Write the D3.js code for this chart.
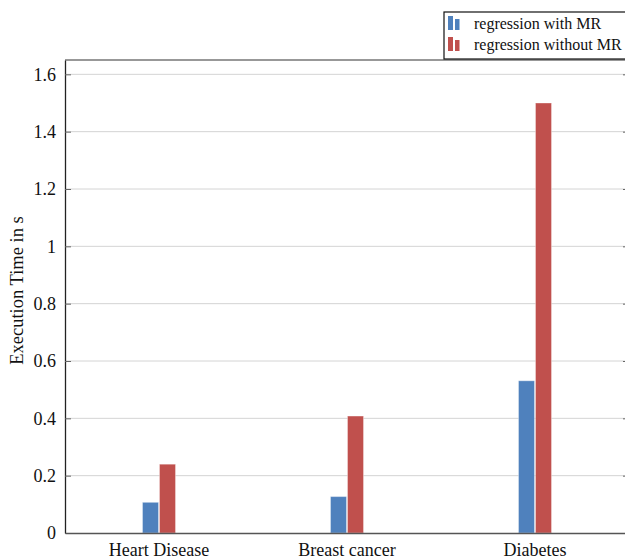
<!DOCTYPE html>
<html>
<head>
<meta charset="utf-8">
<script src="https://cdn.jsdelivr.net/npm/d3@7"></script>
<style>
  body { margin: 0; background: #fff; }
  svg text { font-family: "Liberation Serif", "Times New Roman", serif; fill: #111; }
</style>
</head>
<body>
<svg id="chart" width="625" height="560"></svg>
<script>
const categories = ["Heart Disease", "Breast cancer", "Diabetes"];
const seriesNames = ["regression with MR", "regression without MR"];
const withMR = [0.107, 0.127, 0.531];
const withoutMR = [0.24, 0.408, 1.5];
const yTicks = [0, 0.2, 0.4, 0.6, 0.8, 1, 1.2, 1.4, 1.6];
const colors = ["#4F81BD", "#C0504D"];

const svg = d3.select("#chart");
const margin = { left: 65, top: 60, right: -4, bottom: 27 };
const W = 625, H = 560;
const width = W - margin.left - margin.right;
const height = H - margin.top - margin.bottom;
const serif = "'Liberation Serif', 'Times New Roman', serif";

const g = svg.append("g").attr("transform", `translate(${margin.left},${margin.top})`);

const xScale = d3.scaleBand().domain(categories).range([0, width]).padding(0);
const barW = 17;
const xInner = d3.scaleBand().domain(seriesNames)
  .range([xScale.bandwidth() / 2 - barW, xScale.bandwidth() / 2 + barW]);
const yScale = d3.scaleLinear().domain([0, 1.65]).range([height, 0]);

// grid lines
g.selectAll(".grid")
  .data(yTicks.filter(d => d > 0))
  .join("line")
  .attr("class", "grid")
  .attr("x1", 0).attr("x2", width)
  .attr("y1", d => yScale(d)).attr("y2", d => yScale(d))
  .attr("stroke", "#d4d4d4").attr("stroke-width", 1);

// y axis
const yAxis = d3.axisLeft(yScale)
  .tickValues(yTicks)
  .tickFormat(d => d3.format("~g")(d))
  .tickSizeInner(-6)
  .tickSizeOuter(0)
  .tickPadding(9);
const ya = g.append("g").call(yAxis).attr("font-family", serif);
ya.select(".domain").attr("stroke", "#222").attr("stroke-width", 1.3);
ya.selectAll(".tick line").attr("stroke", "#666");
ya.selectAll("text").attr("font-size", 18).style("font-family", serif);

// right ticks
const yr = g.append("g").attr("transform", `translate(${width},0)`)
  .call(d3.axisRight(yScale).tickValues(yTicks).tickSizeInner(-6).tickSizeOuter(0).tickFormat(""));
yr.select(".domain").remove();
yr.selectAll(".tick line").attr("stroke", "#666");

// bars
const rows = categories.map((c, i) => ({ cat: c, vals: [withMR[i], withoutMR[i]] }));
g.selectAll(".grp")
  .data(rows)
  .join("g")
  .attr("class", "grp")
  .attr("transform", d => `translate(${xScale(d.cat)},0)`)
  .selectAll("rect")
  .data(d => d.vals.map((v, j) => ({ key: seriesNames[j], v, j })))
  .join("rect")
  .attr("x", d => xInner(d.key) + 0.5)
  .attr("width", xInner.bandwidth() - 1)
  .attr("y", d => yScale(d.v))
  .attr("height", d => yScale(0) - yScale(d.v))
  .attr("fill", d => colors[d.j])
  .attr("stroke", "#fff").attr("stroke-opacity", 0.35).attr("stroke-width", 1);

// top frame line
g.append("line").attr("x1", 0).attr("x2", width).attr("y1", 0).attr("y2", 0)
  .attr("stroke", "#333").attr("stroke-width", 1.2);

// x axis
const xAxis = d3.axisBottom(xScale).tickSize(0).tickPadding(10);
const xa = g.append("g").attr("transform", `translate(0,${height})`).call(xAxis).attr("font-family", serif);
xa.select(".domain").attr("stroke", "#555").attr("stroke-width", 1.6);
xa.selectAll("text").attr("font-size", 18).style("font-family", serif);

// y axis label
svg.append("text")
  .attr("transform", `translate(23,${margin.top + height / 2 - 6}) rotate(-90)`)
  .attr("text-anchor", "middle")
  .attr("font-size", 18.5)
  .style("font-family", serif)
  .text("Execution Time in s");

// legend
const lg = svg.append("g").attr("transform", "translate(444,12)");
lg.append("rect").attr("x", 0).attr("y", 0).attr("width", 190).attr("height", 47)
  .attr("fill", "#fff").attr("stroke", "#111").attr("stroke-width", 1.2);
seriesNames.forEach((name, i) => {
  const yy = 4 + i * 21;
  lg.append("rect").attr("x", 4).attr("y", yy).attr("width", 5).attr("height", 14).attr("fill", colors[i]);
  lg.append("rect").attr("x", 11).attr("y", yy + 3).attr("width", 4.5).attr("height", 11).attr("fill", colors[i]);
  lg.append("text").attr("x", 30).attr("y", yy + 13).attr("font-size", 16).style("font-family", serif).text(name);
});
</script>
</body>
</html>
